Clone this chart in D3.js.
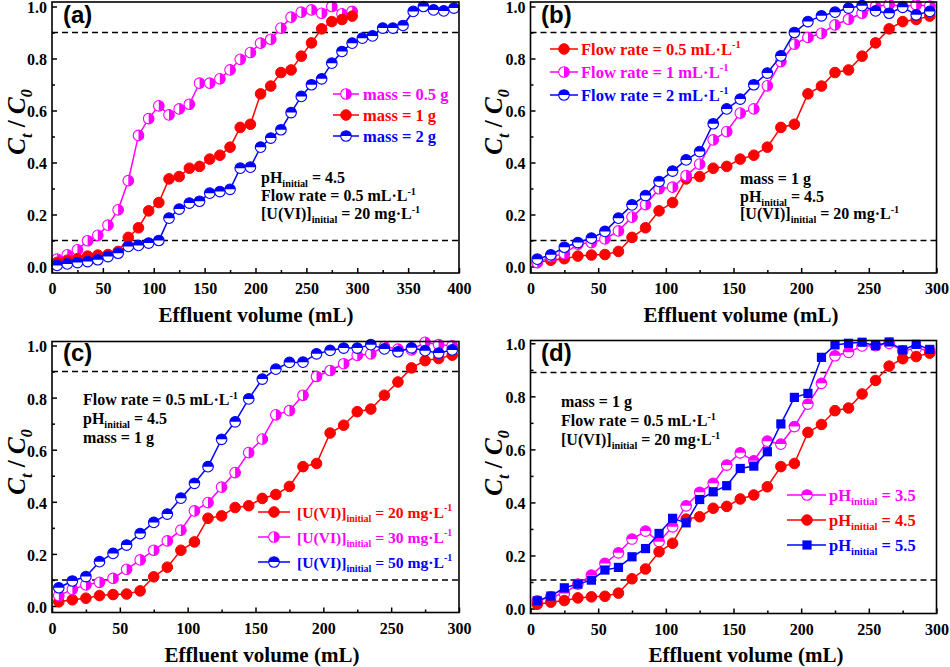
<!DOCTYPE html>
<html><head><meta charset="utf-8">
<script src="https://cdn.jsdelivr.net/npm/d3@7"></script>
<style>body{margin:0;background:#fff} svg{display:block}</style>
</head><body>
<svg id="chart" width="950" height="667"></svg>
<script>
// ---------- DATA ----------
const volume30 = [5,15,25,35,45,55,65,75,85,95,105,115,125,135,145,155,165,175,185,195,205,215,225,235,245,255,265,275,285,295];
const volume40 = [5,15,25,35,45,55,65,75,85,95,105,115,125,135,145,155,165,175,185,195,205,215,225,235,245,255,265,275,285,295,305,315,325,335,345,355,365,375,385,395];
// reference condition: mass 1 g, flow 0.5, pH 4.5, 20 mg/L (shared by all panels)
const reference = [0.016,0.024,0.03,0.04,0.044,0.046,0.058,0.112,0.149,0.214,0.246,0.337,0.346,0.378,0.385,0.413,0.428,0.459,0.535,0.547,0.664,0.694,0.746,0.756,0.809,0.86,0.914,0.942,0.95,0.963];
const massHalf = [0.028,0.045,0.064,0.099,0.12,0.159,0.218,0.33,0.504,0.569,0.618,0.583,0.606,0.624,0.705,0.705,0.722,0.756,0.797,0.823,0.859,0.874,0.917,0.959,0.978,0.987,0.974,1.0,0.972,0.981];
const massTwo = [0.004,0.01,0.015,0.019,0.026,0.038,0.051,0.077,0.081,0.09,0.1,0.186,0.221,0.244,0.251,0.282,0.288,0.297,0.378,0.382,0.459,0.494,0.526,0.592,0.654,0.699,0.722,0.782,0.827,0.859,0.878,0.887,0.917,0.917,0.927,0.981,1.0,0.987,0.983,0.994];
const flowOne = [0.015,0.038,0.049,0.086,0.092,0.106,0.137,0.19,0.238,0.299,0.305,0.35,0.394,0.487,0.519,0.59,0.606,0.695,0.788,0.855,0.881,0.897,0.929,0.951,0.974,1.0,1.008,1.0,1.006,1.002];
const flowTwo = [0.028,0.045,0.074,0.092,0.109,0.135,0.186,0.237,0.273,0.327,0.367,0.41,0.442,0.549,0.606,0.644,0.699,0.744,0.81,0.9,0.942,0.964,0.978,0.994,1.003,0.983,0.974,0.997,0.968,0.981];
const uThirty = [0.04,0.064,0.081,0.091,0.106,0.141,0.177,0.214,0.25,0.291,0.365,0.397,0.456,0.512,0.589,0.641,0.734,0.75,0.809,0.881,0.904,0.93,0.962,0.968,0.996,0.986,0.983,1.012,1.003,0.999];
const uFifty = [0.07,0.096,0.113,0.17,0.202,0.234,0.278,0.321,0.353,0.414,0.471,0.535,0.64,0.707,0.795,0.871,0.909,0.935,0.936,0.968,0.981,0.99,0.99,1.003,0.987,0.976,0.991,0.98,0.971,0.983];
const phLow = [0.029,0.044,0.057,0.092,0.126,0.17,0.21,0.262,0.292,0.252,0.308,0.387,0.438,0.472,0.541,0.587,0.557,0.631,0.62,0.686,0.771,0.849,0.953,0.966,0.99,0.991,1.0,0.972,0.981,0.972];
const phHigh = [0.029,0.047,0.078,0.092,0.107,0.145,0.155,0.195,0.226,0.283,0.34,0.323,0.411,0.44,0.463,0.528,0.537,0.591,0.696,0.796,0.811,0.947,0.994,1.0,1.004,0.991,1.005,0.975,0.996,0.977];

const xTicks400 = [0,50,100,150,200,250,300,350,400];
const xMinor400 = [25,75,125,175,225,275,325,375];
const xTicks300 = [0,50,100,150,200,250,300];
const xMinor300 = [25,75,125,175,225,275];
const yTicks = [0,0.2,0.4,0.6,0.8,1.0];
const yMinor = [0.1,0.3,0.5,0.7,0.9];

// ---------- STYLE ----------
const SERIF = '"Liberation Serif","Times New Roman",Times,serif';
const SANS = '"Liberation Sans",Arial,Helvetica,sans-serif';
const RED = '#ff0000', PINK = '#ff00ff', BLUE = '#0000ff';

const U = (v) => [{t:'[U(VI)]'},{t:'initial',sub:true},{t:' = '+v+' mg·L'},{t:'-1',sup:true}];
const PH = (v) => [{t:'pH'},{t:'initial',sub:true},{t:' = '+v}];
const FLOW = (v) => [{t:'Flow rate = '+v+' mL·L'},{t:'-1',sup:true}];
const MASS = (v) => [{t:'mass = '+v+' g'}];

const panels = [
 {label:'(a)', box:{l:52,r:459,t:2,b:273,y0:266.5,y1:6.5}, xMax:400, xTicks:xTicks400, xMinor:xMinor400,
  labelPos:[63,22.5], yTitle:[25,122], xTitle:[256,322], dashes:[0.9,0.1],
  series:[{x:volume30,y:massHalf,color:PINK,marker:'halfRight',name:MASS('0.5')},
          {x:volume30,y:reference,color:RED,marker:'full',name:MASS('1')},
          {x:volume40,y:massTwo,color:BLUE,marker:'halfTop',name:MASS('2')}],
  legend:{x0:333,x1:359,mx:346,tx:363,rows:[94,115,136],size:16.5},
  notes:{x:261,rows:[183,201,219],lines:[PH('4.5'),FLOW('0.5'),U('20')]}},
 {label:'(b)', box:{l:530.5,r:936.5,t:2,b:273,y0:266.5,y1:6.5}, xMax:300, xTicks:xTicks300, xMinor:xMinor300,
  labelPos:[541,22.5], yTitle:[502,122], xTitle:[741,322], dashes:[0.9,0.1],
  series:[{x:volume30,y:reference,color:RED,marker:'full',name:FLOW('0.5')},
          {x:volume30,y:flowOne,color:PINK,marker:'halfRight',name:FLOW('1')},
          {x:volume30,y:flowTwo,color:BLUE,marker:'halfTop',name:FLOW('2')}],
  legend:{x0:550,x1:578,mx:564,tx:581,rows:[49,72,95],size:16.5},
  notes:{x:740,rows:[184,202,219],lines:[MASS('1'),PH('4.5'),U('20')]}},
 {label:'(c)', box:{l:52,r:459,t:341.5,b:612.5,y0:606,y1:345.5}, xMax:300, xTicks:xTicks300, xMinor:xMinor300,
  labelPos:[63,360.5], yTitle:[25,462], xTitle:[262,662], dashes:[0.9,0.1],
  series:[{x:volume30,y:reference,color:RED,marker:'full',name:U('20')},
          {x:volume30,y:uThirty,color:PINK,marker:'halfRight',name:U('30')},
          {x:volume30,y:uFifty,color:BLUE,marker:'halfTop',name:U('50')}],
  legend:{x0:258,x1:290,mx:274,tx:297,rows:[512,537,562],size:15.6},
  notes:{x:83,rows:[405,424,443],lines:[FLOW('0.5'),PH('4.5'),MASS('1')]}},
 {label:'(d)', box:{l:530.5,r:936.5,t:340.5,b:613.5,y0:608.5,y1:343.3}, xMax:300, xTicks:xTicks300, xMinor:xMinor300,
  labelPos:[541,360.5], yTitle:[502,463], xTitle:[746,662], dashes:[0.89,0.107],
  series:[{x:volume30,y:phLow,color:PINK,marker:'halfTop',name:PH('3.5')},
          {x:volume30,y:reference,color:RED,marker:'full',name:PH('4.5')},
          {x:volume30,y:phHigh,color:BLUE,marker:'square',name:PH('5.5')}],
  legend:{x0:787,x1:826,mx:807,tx:829,rows:[495,520,545],size:16.5},
  notes:{x:561,rows:[407,426,445],lines:[MASS('1'),FLOW('0.5'),U('20')]}}
];

const svg = d3.select('#chart');

function rich(sel, segs, size){
  let off = 0;
  segs.forEach(s => {
    const target = s.sub ? size*0.27 : s.sup ? -size*0.4 : 0;
    const ts = sel.append('tspan').text(s.t)
      .attr('dy', (target-off).toFixed(2))
      .attr('font-size', (s.sub||s.sup) ? size*0.64 : size);
    if (s.it) ts.attr('font-style','italic');
    off = target;
  });
}

const R = 5.3;
function marker(g, cx, cy, type, color){
  if (type === 'full'){
    g.append('circle').attr('cx',cx).attr('cy',cy).attr('r',R).attr('fill',color).attr('stroke',color).attr('stroke-width',1);
  } else if (type === 'square'){
    g.append('rect').attr('x',cx-4.6).attr('y',cy-4.6).attr('width',9.2).attr('height',9.2).attr('fill',color);
  } else {
    g.append('circle').attr('cx',cx).attr('cy',cy).attr('r',R).attr('fill','#fff').attr('stroke',color).attr('stroke-width',1.1);
    const r = R;
    const d = type === 'halfTop'
      ? `M${cx-r},${cy} A${r},${r} 0 0 1 ${cx+r},${cy} Z`
      : `M${cx},${cy-r} A${r},${r} 0 0 1 ${cx},${cy+r} Z`;
    g.append('path').attr('d',d).attr('fill',color);
  }
}

panels.forEach(p => {
  const b = p.box;
  const g = svg.append('g');
  const x = d3.scaleLinear().domain([0,p.xMax]).range([b.l,b.r]);
  const y = d3.scaleLinear().domain([0,1]).range([b.y0,b.y1]);

  // axes
  const styleAxis = (ax) => {
    ax.selectAll('.domain').remove();
    ax.selectAll('line').attr('stroke','#000').attr('stroke-width',1.5);
    ax.selectAll('text').attr('font-family',SERIF).attr('font-weight','bold').attr('font-size',16).attr('fill','#000');
  };
  styleAxis(g.append('g').attr('transform',`translate(0,${b.b})`)
    .call(d3.axisBottom(x).tickValues(p.xTicks).tickSize(-5).tickPadding(10).tickFormat(d3.format('d'))));
  styleAxis(g.append('g').attr('transform',`translate(0,${b.b})`)
    .call(d3.axisBottom(x).tickValues(p.xMinor).tickSize(-3).tickFormat('')));
  const yAx = g.append('g').attr('transform',`translate(${b.l},0)`)
    .call(d3.axisLeft(y).tickValues(yTicks).tickSize(-5).tickPadding(5).tickFormat(d3.format('.1f')));
  styleAxis(yAx);
  yAx.selectAll('text').attr('dy','0.4em');
  styleAxis(g.append('g').attr('transform',`translate(${b.l},0)`)
    .call(d3.axisLeft(y).tickValues(yMinor).tickSize(-3).tickFormat('')));

  // dashed thresholds
  p.dashes.forEach(v => {
    g.append('line').attr('x1',b.l).attr('x2',b.r).attr('y1',y(v)).attr('y2',y(v))
      .attr('stroke','#000').attr('stroke-width',1.5).attr('stroke-dasharray','6,4');
  });

  // series
  p.series.forEach(s => {
    const pts = s.x.map((v,i) => [v, s.y[i]]);
    g.append('path').datum(pts)
      .attr('d', d3.line().x(d => x(d[0])).y(d => y(d[1])))
      .attr('fill','none').attr('stroke',s.color).attr('stroke-width',1.5);
    const mg = g.append('g');
    pts.forEach(d => marker(mg, x(d[0]), y(d[1]), s.marker, s.color));
  });

  // legend
  const L = p.legend;
  p.series.forEach((s,i) => {
    const ry = L.rows[i];
    g.append('line').attr('x1',L.x0).attr('x2',L.x1).attr('y1',ry).attr('y2',ry).attr('stroke',s.color).attr('stroke-width',1.5);
    marker(g, L.mx, ry, s.marker, s.color);
    const t = g.append('text').attr('x',L.tx).attr('y',ry+5.5)
      .attr('font-family',SERIF).attr('font-weight','bold').attr('fill',s.color).attr('font-size',L.size);
    rich(t, s.name, L.size);
  });

  // notes
  p.notes.lines.forEach((ln,i) => {
    const t = g.append('text').attr('x',p.notes.x).attr('y',p.notes.rows[i])
      .attr('font-family',SERIF).attr('font-weight','bold').attr('fill','#000').attr('font-size',16);
    rich(t, ln, 16);
  });

  // frame
  g.append('rect').attr('x',b.l).attr('y',b.t).attr('width',b.r-b.l).attr('height',b.b-b.t)
    .attr('fill','none').attr('stroke','#000').attr('stroke-width',1.6);

  // panel label
  g.append('text').attr('x',p.labelPos[0]).attr('y',p.labelPos[1]).text(p.label)
    .attr('font-family',SANS).attr('font-weight','bold').attr('font-size',24).attr('fill','#000');

  // axis titles
  g.append('text').attr('x',p.xTitle[0]).attr('y',p.xTitle[1]).attr('text-anchor','middle')
    .attr('font-family',SERIF).attr('font-weight','bold').attr('font-size',21).attr('fill','#000')
    .text('Effluent volume (mL)');
  const yt = g.append('text').attr('transform',`translate(${p.yTitle[0]},${p.yTitle[1]}) rotate(-90)`)
    .attr('text-anchor','middle').attr('font-family',SERIF).attr('font-weight','bold').attr('fill','#000').attr('font-size',25);
  rich(yt, [{t:'C',it:true},{t:'t',it:true,sub:true},{t:' / '},{t:'C',it:true},{t:'0',it:true,sub:true}], 25);
});
</script>
</body></html>
